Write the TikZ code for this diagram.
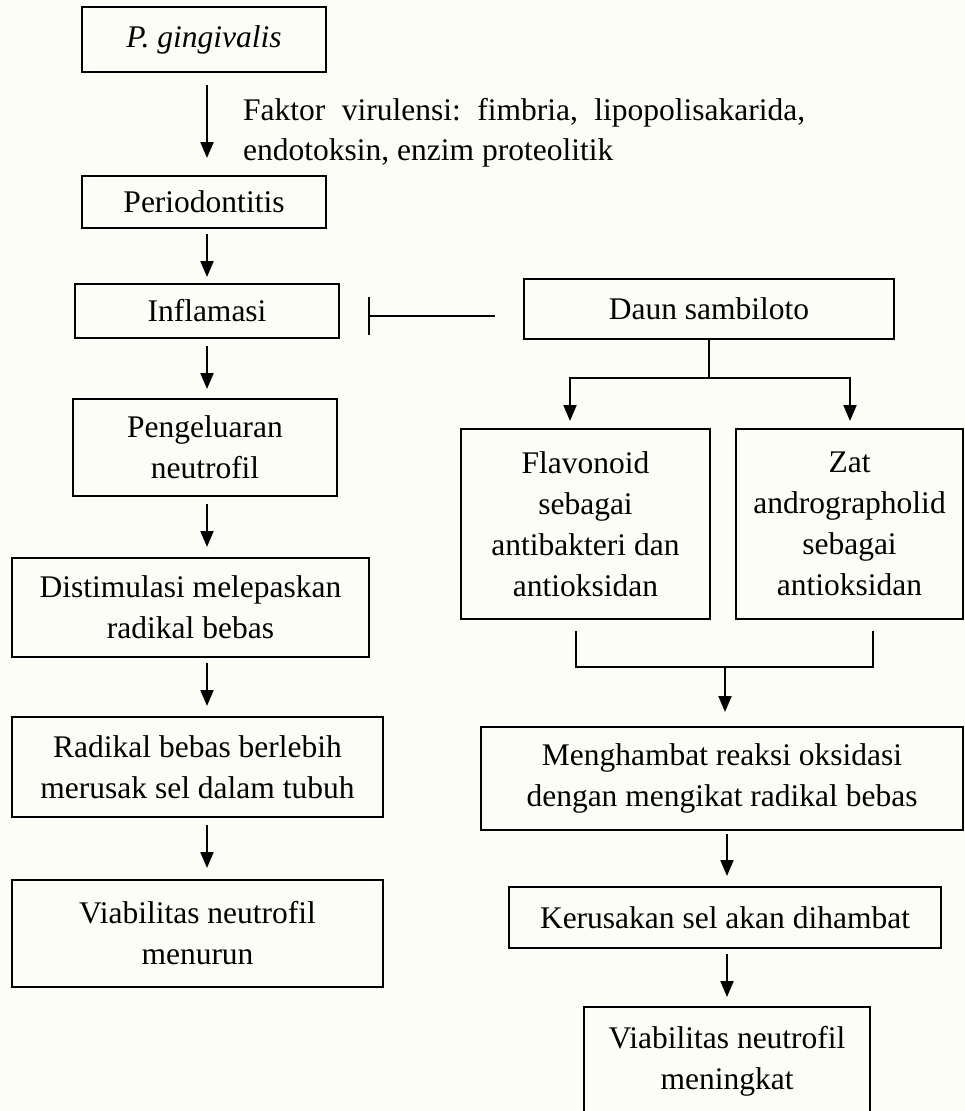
\documentclass[tikz,border=0pt]{standalone}
\usepackage{fontspec}
\setmainfont{Liberation Serif}
\usetikzlibrary{arrows.meta,calc}
\definecolor{bg}{RGB}{253,253,248}
\frenchspacing
\begin{document}
\begin{tikzpicture}[x=1pt,y=-1pt,
  box/.style={draw,line width=2pt,rectangle,inner sep=0pt,align=center,
    font=\fontsize{31.5}{41}\selectfont},
  lab/.style={inner sep=0pt,font=\fontsize{31.5}{41}\selectfont},
  arr/.style={line width=2pt,-{Triangle[width=13pt,length=16pt]}},
  ln/.style={line width=2pt},
  inh/.style={line width=1.8pt,-{Bar[width=38pt]}}]
\fill[bg] (0,0) rectangle (965,1111);
\useasboundingbox (0,0) rectangle (965,1111);
\clip (0,0) rectangle (965,1111);
% left column
\node[box,minimum width=244pt,minimum height=65pt] (pg) at (204,39.5) {\textit{P. gingivalis}};
\node[box,minimum width=244pt,minimum height=52pt] (perio) at (204,202) {Periodontitis};
\node[box,minimum width=264pt,minimum height=54pt] (infl) at (207,311) {Inflamasi};
\node[box,minimum width=264pt,minimum height=97pt] (peng) at (205,447.5) {Pengeluaran\\neutrofil};
\node[box,minimum width=357pt,minimum height=99pt] (dist) at (190.5,607.5) {Distimulasi melepaskan\\radikal bebas};
\node[box,minimum width=371pt,minimum height=100pt] (rad) at (197.5,767) {Radikal bebas berlebih\\merusak sel dalam tubuh};
\node[box,minimum width=371pt,minimum height=107pt] (viab1) at (197.5,933.5) {Viabilitas neutrofil\\menurun};
% label
\node[lab,anchor=base west] (lab1) at (243,120) {\makebox[562pt][s]{Faktor virulensi: fimbria, lipopolisakarida,}};
\node[lab,anchor=base west] (lab2) at (243,160) {endotoksin, enzim proteolitik};
% right column
\node[box,minimum width=370pt,minimum height=60pt] (daun) at (709,309) {Daun sambiloto};
\node[box,minimum width=249pt,minimum height=190pt] (flav) at (585.5,524) {Flavonoid\\sebagai\\antibakteri dan\\antioksidan};
\node[box,minimum width=227pt,minimum height=190pt] (zat) at (849.5,524) {Zat\\andrographolid\\sebagai\\antioksidan};
\node[box,minimum width=482pt,minimum height=103pt] (meng) at (722,778.5) {Menghambat reaksi oksidasi\\dengan mengikat radikal bebas};
\node[box,minimum width=432pt,minimum height=61pt] (keru) at (725,917.5) {Kerusakan sel akan dihambat};
\node[box,minimum width=286pt,minimum height=108pt] (viab2) at (727,1061) {Viabilitas neutrofil\\meningkat};
% left arrows
\draw[arr] ($(pg.south)+(3,12)$) -- ($(perio.north)+(3,-17)$);
\draw[arr] ($(perio.south)+(3,5)$) -- ($(infl.north)+(0,-6)$);
\draw[arr] ($(infl.south)+(0,7)$) -- ($(peng.north)+(2,-9)$);
\draw[arr] ($(peng.south)+(2,7)$) -- ($(dist.north)+(16.5,-10)$);
\draw[arr] ($(dist.south)+(16.5,5)$) -- ($(rad.north)+(9.5,-10)$);
\draw[arr] ($(rad.south)+(9.5,7)$) -- ($(viab1.north)+(9.5,-11)$);
% inhibition
\draw[inh] ($(daun.west)+(-28,7)$) -- ($(infl.east)+(28,5)$);
% branch
\coordinate (split) at ($(daun.south)+(0,38)$);
\draw[ln] (daun.south) -- (split);
\draw[arr] (split) -| ($(flav.north)+(-15.5,-7)$);
\draw[arr] (split) -| ($(zat.north)+(0.5,-7)$);
% merge
\coordinate (merge) at ($(meng.north)+(3,-59)$);
\draw[ln] ($(flav.south)+(-9.5,11)$) |- (merge) -| ($(zat.south)+(23.5,11)$);
\draw[arr] (merge) -- ($(meng.north)+(3,-14)$);
\draw[arr] ($(meng.south)+(5,3)$) -- ($(keru.north)+(2,-10)$);
\draw[arr] ($(keru.south)+(2,5)$) -- ($(viab2.north)+(0,-9)$);
\end{tikzpicture}
\end{document}
